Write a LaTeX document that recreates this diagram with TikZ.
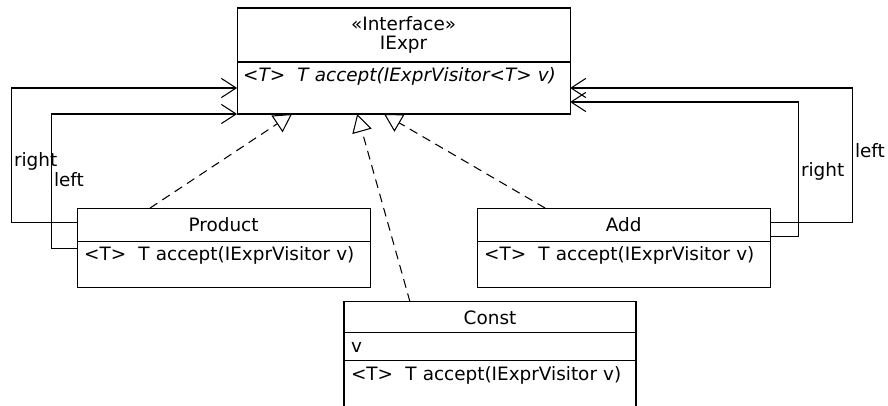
\documentclass[tikz,border=0pt]{standalone}
\usepackage{fontspec}
\setmainfont{DejaVu Sans}
\usetikzlibrary{arrows.meta,positioning}

\begin{document}
\begin{tikzpicture}[font=\fontsize{13.1}{13.8}\selectfont,
  box/.style={draw,line width=0.75pt,outer sep=0pt,inner sep=0pt},
  head/.style={box,minimum width=#1,minimum height=0.825cm},
  member/.style={box,text width=#1,inner xsep=0.175cm,align=left,text height=0.48cm},
  real/.style={line width=0.75pt,dash pattern=on 0.22cm off 0.15cm,-{Triangle[open,length=0.45cm,width=0.5cm]}},
  assoc/.style={line width=0.75pt,-{Straight Barb[length=0.37cm,width=0.48cm]}},
  role/.style={anchor=west,inner sep=0.06cm}]
\useasboundingbox (0,0) rectangle (22.2,10.125);
% interface
\node[box,minimum width=8.325cm,minimum height=1.35cm,align=center] (ih) at (10.09,9.25) {«Interface»\\IExpr};
\node[member=8.025cm,inner xsep=0.15cm,text height=0.5cm,text depth=0.8cm,below=0pt of ih] (im) {\itshape <T>\ \ T accept(IExprVisitor<T> v)};
% classes
\node[head=7.325cm] (pn) at (5.59,4.51) {Product};
\node[member=6.975cm,text depth=0.67cm,below=0pt of pn] (pm) {<T>\ \ T accept(IExprVisitor v)};
\node[head=7.325cm] (an) at (15.59,4.51) {Add};
\node[member=6.975cm,text depth=0.67cm,below=0pt of an] (am) {<T>\ \ T accept(IExprVisitor v)};
\node[head=7.3cm,minimum height=0.775cm] (cn) at (12.25,2.19) {Const};
\node[member=6.95cm,text height=0.5cm,text depth=0.2cm,below=0pt of cn] (ca) {v};
\node[member=6.95cm,text depth=0.7cm,below=0pt of ca] (cm) {<T>\ \ T accept(IExprVisitor v)};
% realizations
\draw[real] ([xshift=-1.84cm]pn.north) -- ([xshift=-2.79cm]im.south);
\draw[real] ([xshift=-2.0cm]cn.north) -- ([xshift=-1.16cm]im.south);
\draw[real] ([xshift=-1.96cm]an.north) -- ([xshift=-0.49cm]im.south);
% associations
\draw[assoc] ([yshift=0.06cm]pn.west) -- ++(-1.65,0) |- node[role,pos=0.226]{right} (im.west);
\draw[assoc] ([yshift=-0.175cm]pm.north west) -- ++(-0.65,0) |- node[role,pos=0.256]{left} (im.south west);
\draw[assoc] ([yshift=0.06cm]an.east) -- ++(2.05,0) |- node[role,pos=0.267]{left} (im.east);
\draw[assoc] ([yshift=0.125cm]am.north east) -- ++(0.7,0) |- node[role,pos=0.241]{right} ([yshift=0.3cm]im.south east);
\end{tikzpicture}
\end{document}
